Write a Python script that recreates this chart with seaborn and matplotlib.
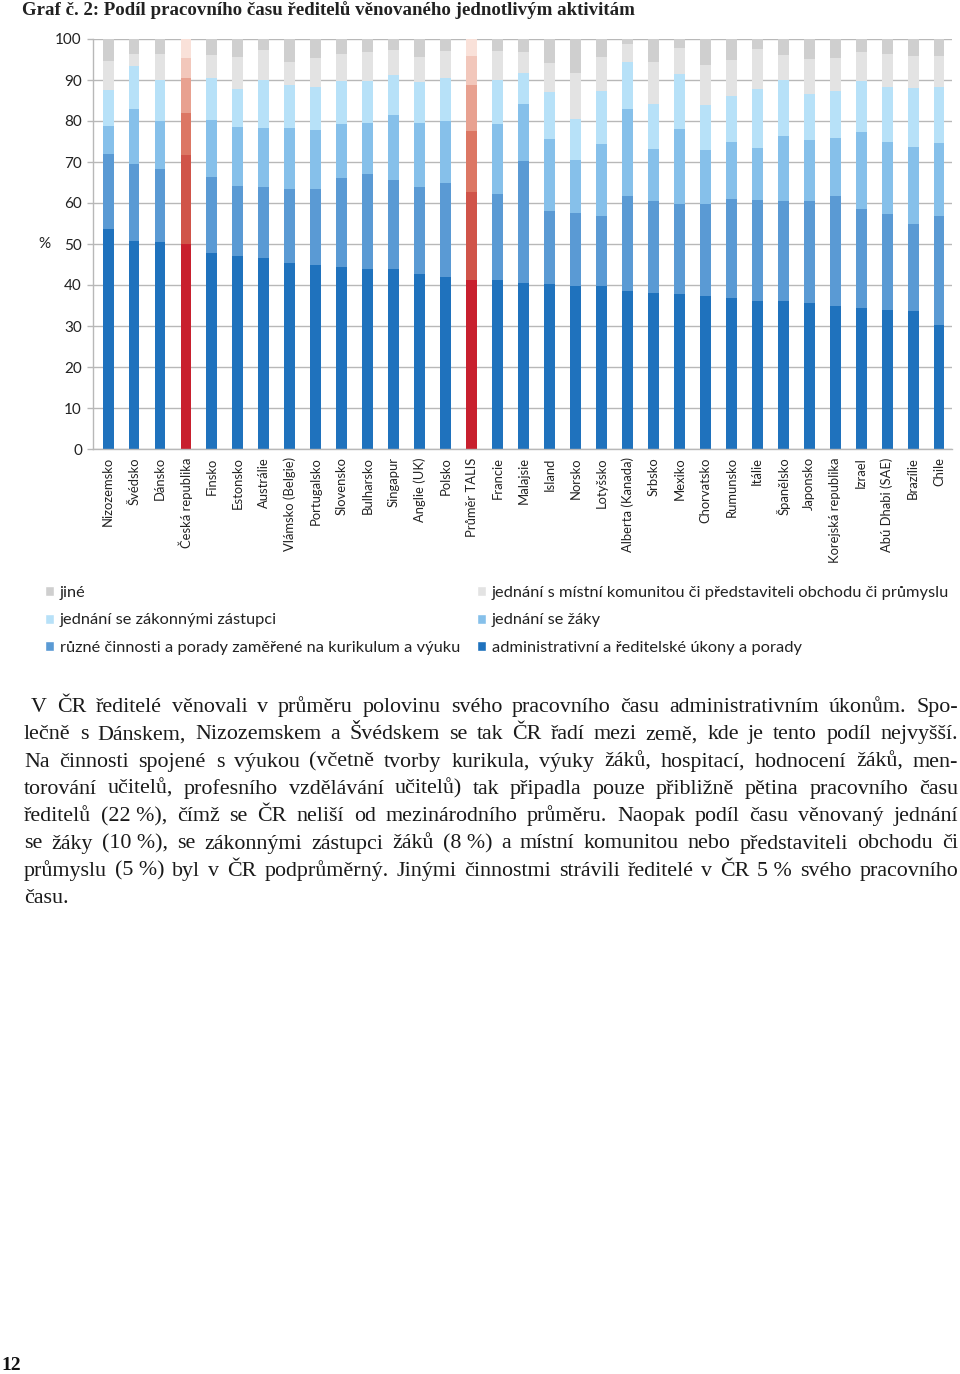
import numpy as np
import pandas as pd
import matplotlib
matplotlib.use("Agg")
import matplotlib.pyplot as plt
from matplotlib.patches import Patch
import seaborn as sns

# Countries in chart order
countries = ["Nizozemsko", "Švédsko", "Dánsko", "Česká republika", "Finsko", "Estonsko",
             "Austrálie", "Vlámsko (Belgie)", "Portugalsko", "Slovensko", "Bulharsko",
             "Singapur", "Anglie (UK)", "Polsko", "Průměr TALIS", "Francie", "Malajsie",
             "Island", "Norsko", "Lotyšsko", "Alberta (Kanada)", "Srbsko", "Mexiko",
             "Chorvatsko", "Rumunsko", "Itálie", "Španělsko", "Japonsko",
             "Korejská republika", "Izrael", "Abú Dhabi (SAE)", "Brazílie", "Chile"]
highlight = ["Česká republika", "Průměr TALIS"]

# Share of working time (%)
admin = [53.6, 50.8, 50.4, 50.0, 47.8, 47.1, 46.7, 45.4, 44.8, 44.5, 43.9,
         43.9, 42.6, 41.9, 41.2, 41.1, 40.4, 40.3, 39.7, 39.7, 38.6, 38.0, 37.7,
         37.4, 36.9, 36.1, 36.0, 35.5, 34.9, 34.4, 33.8, 33.6, 30.2]
curriculum = [18.3, 18.7, 17.8, 21.8, 18.5, 17.1, 17.1, 18.1, 18.5, 21.5, 23.2,
              21.7, 21.3, 22.9, 21.4, 21.1, 29.8, 17.8, 17.9, 17.1, 23.1, 22.4, 22.1,
              22.4, 24.1, 24.6, 24.5, 25.1, 26.9, 24.2, 23.4, 21.4, 26.6]
students = [6.8, 13.5, 11.8, 10.2, 13.9, 14.4, 14.4, 14.7, 14.4, 13.2, 12.5,
            15.9, 15.7, 15.2, 15.0, 17.1, 13.9, 17.6, 12.8, 17.5, 21.2, 12.7, 18.2,
            13.1, 13.9, 12.7, 15.8, 14.7, 14.1, 18.8, 17.7, 18.7, 17.8]
parents = [8.8, 10.5, 10.0, 8.4, 10.4, 9.3, 11.9, 10.7, 10.7, 10.6, 10.2,
           9.7, 9.9, 10.4, 11.2, 10.8, 7.7, 11.4, 10.0, 13.0, 11.6, 11.0, 13.4,
           10.9, 11.3, 14.3, 13.7, 11.4, 11.3, 12.4, 13.5, 14.4, 13.8]
community = [7.2, 2.8, 6.3, 4.9, 5.5, 7.8, 7.2, 5.6, 6.9, 6.5, 7.0,
             6.1, 6.2, 6.7, 7.0, 7.0, 5.0, 7.0, 11.4, 8.2, 4.4, 10.4, 6.5,
             9.8, 8.7, 9.8, 6.1, 8.4, 8.2, 7.1, 7.9, 7.8, 7.5]
other = [5.3, 3.7, 3.7, 4.7, 3.9, 4.3, 2.7, 5.5, 4.7, 3.7, 3.2,
         2.7, 4.3, 2.9, 4.2, 2.9, 3.2, 5.9, 8.2, 4.5, 1.1, 5.5, 2.1,
         6.4, 5.1, 2.5, 3.9, 4.9, 4.6, 3.1, 3.7, 4.1, 4.1]

labels = ["administrativní a ředitelské úkony a porady",
          "různé činnosti a porady zaměřené na kurikulum a výuku",
          "jednání se žáky",
          "jednání se zákonnými zástupci",
          "jednání s místní komunitou či představiteli obchodu či průmyslu",
          "jiné"]
blues = ["#1f72bd", "#5a9ad4", "#86c0ea", "#b7e1f8", "#e3e3e3", "#cfcfcf"]
reds = ["#c8202e", "#d05449", "#dc7764", "#e8a190", "#f2c7bb", "#f9e1d9"]

title = "Graf č. 2: Podíl pracovního času ředitelů věnovaného jednotlivým aktivitám"
body_lines = [
    "V ČR ředitelé věnovali v průměru polovinu svého pracovního času administrativním úkonům. Spo-",
    "lečně s Dánskem, Nizozemskem a Švédskem se tak ČR řadí mezi země, kde je tento podíl nejvyšší.",
    "Na činnosti spojené s výukou (včetně tvorby kurikula, výuky žáků, hospitací, hodnocení žáků, men-",
    "torování učitelů, profesního vzdělávání učitelů) tak připadla pouze přibližně pětina pracovního času",
    "ředitelů (22\u00a0%), čímž se ČR neliší od mezinárodního průměru. Naopak podíl času věnovaný jednání",
    "se žáky (10\u00a0%), se zákonnými zástupci žáků (8\u00a0%) a místní komunitou nebo představiteli obchodu či",
    "průmyslu (5\u00a0%) byl v ČR podprůměrný. Jinými činnostmi strávili ředitelé v ČR 5\u00a0% svého pracovního",
    "času.",
]

df = pd.DataFrame({"country": countries})
stack = np.array([admin, curriculum, students, parents, community, other])
tops = stack.cumsum(axis=0)

sns.set_style("white")
plt.rcParams["font.family"] = ["Lato", "DejaVu Sans"]
grey = "#b8b8b8"
W, H = 960, 1374

fig = plt.figure(figsize=(W / 100, H / 100), dpi=100)
ax = fig.add_axes([93 / W, 1 - 449 / H, 859 / W, 410 / H])

# draw cumulative layers from the top down so each lower layer covers the one above
for k in range(len(labels) - 1, -1, -1):
    df["top"] = tops[k]
    pal = {c: (reds[k] if c in highlight else blues[k]) for c in countries}
    sns.barplot(data=df, x="country", y="top", hue="country", palette=pal,
                legend=False, width=0.42, saturation=1, linewidth=0,
                errorbar=None, ax=ax)

ax.set_ylim(0, 100)
ax.set_xlim(-0.58, len(countries) - 1 + 0.46)
ax.set_yticks(range(0, 101, 10))
ax.set_xlabel("")
ax.set_ylabel("%", rotation=0, fontsize=11, color="#222222", va="center", ha="center")
ax.yaxis.set_label_coords(-0.056, 0.5)
ax.grid(axis="y", color=grey, linewidth=1)
ax.set_axisbelow(True)
for s in ["top", "right"]:
    ax.spines[s].set_visible(False)
for s in ["left", "bottom"]:
    ax.spines[s].set_color(grey)
    ax.spines[s].set_linewidth(1)

ax.set_xticks(np.arange(len(countries) + 1) - 0.5, minor=True)
ax.tick_params(axis="x", which="major", length=0, pad=6, labelsize=9.4,
               labelrotation=90, labelcolor="#222222")
ax.tick_params(axis="x", which="minor", length=4, color=grey, width=1)
ax.tick_params(axis="y", length=4, color=grey, width=1, pad=4, labelsize=11,
               labelcolor="#222222", left=True)

# legend in two columns, filled row by row
patches = [Patch(facecolor=c, label=l) for c, l in zip(blues, labels)]
legend_kw = dict(loc="upper left", frameon=False, fontsize=11.8, handlelength=0.55,
                 handleheight=0.55, handletextpad=0.35, labelspacing=0.82,
                 borderpad=0, borderaxespad=0, labelcolor="#222222")
fig.legend(handles=[patches[5], patches[3], patches[1]], bbox_to_anchor=(45 / W, 1 - 586 / H), **legend_kw)
fig.legend(handles=[patches[4], patches[2], patches[0]], bbox_to_anchor=(477 / W, 1 - 586 / H), **legend_kw)

fig.text(22 / W, 1 - 10 / H, title, family="Liberation Serif", weight="bold",
         fontsize=13.6, va="center", ha="left", color="#222222")
fig.text(1 / W, 1 - 1366 / H, "12", family="Liberation Serif", weight="bold",
         fontsize=14, va="center", ha="left", color="#111111")

# justified body text
renderer = fig.canvas.get_renderer()
text_kw = dict(family="Liberation Serif", fontsize=15.8, va="baseline", ha="left", color="#1a1a1a")
for i, line in enumerate(body_lines):
    y = 1 - (712 + i * 27.3) / H
    words = line.split(" ")
    objs = [fig.text(0, y, w, **text_kw) for w in words]
    widths = [t.get_window_extent(renderer).width for t in objs]
    x0 = 31 if i == 0 else 24
    if i == len(body_lines) - 1:
        gap = 5
    else:
        gap = (958 - x0 - sum(widths)) / (len(words) - 1)
    x = x0
    for t, w in zip(objs, widths):
        t.set_x(x / W)
        x += w + gap

fig.savefig("out.png", dpi=100)
